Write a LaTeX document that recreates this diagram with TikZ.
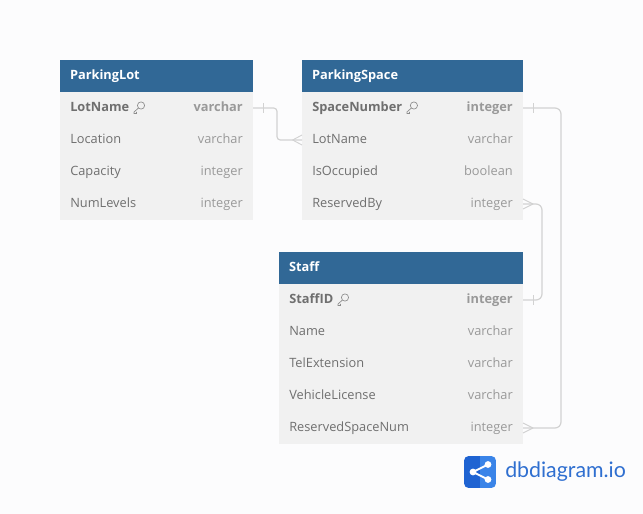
\documentclass[tikz,border=0pt]{standalone}
\usepackage{fontspec}
\setmainfont{Open Sans}
\newfontfamily\logofont{Lato}
\definecolor{hdr}{HTML}{316896}
\definecolor{rowbg}{HTML}{F1F1F1}
\definecolor{pagebg}{HTML}{FCFCFD}
\definecolor{txt}{HTML}{6F6F6F}
\definecolor{typ}{HTML}{999999}
\definecolor{conn}{HTML}{D2D2D2}
\definecolor{logoa}{HTML}{1F63D2}
\definecolor{logob}{HTML}{3A84E8}
\definecolor{logot}{HTML}{2F6FD0}
\tikzset{
  x=0.75pt,y=-0.75pt,
  hdrbox/.style={fill=hdr,draw=none,inner sep=0pt,outer sep=0pt,minimum height=24pt,text width=#1*0.75pt-15pt,minimum width=#1*0.75pt,anchor=north west,align=left,text=white,text height=7pt,text depth=2.5pt,font=\fontsize{9.6}{11}\selectfont\bfseries},
  rowbox/.style={fill=rowbg,draw=none,inner sep=0pt,outer sep=0pt,minimum height=24pt,minimum width=#1*0.75pt,anchor=north west},
  namelab/.style={anchor=west,inner sep=0pt,text=txt,text height=7pt,text depth=2.5pt,font=\fontsize{9.6}{11}\selectfont},
  typelab/.style={anchor=east,inner sep=0pt,text=typ,text height=7pt,text depth=2.5pt,font=\fontsize{9.6}{11}\selectfont},
  pkname/.style={namelab,font=\fontsize{9.6}{11}\selectfont\bfseries},
  pktype/.style={typelab,font=\fontsize{9.6}{11}\selectfont\bfseries},
  link/.style={draw=conn,line width=0.9pt,rounded corners=4.5pt},
  tightlink/.style={link,rounded corners=2.5pt},
  endmark/.style={draw=conn,line width=0.7pt},
  keyicon/.style={draw=txt!80,line width=0.5pt},
}
% \tablerow{id}{x}{y}{w}{name}{type}{style prefix: pk or plain}
\newcommand{\tablerow}[7]{%
  \node[rowbox=#4] (#1) at (#2,#3) {};
  \node[#7name] (#1-n) at ([xshift=7.5pt]#1.west) {#5};
  \node[#7type] (#1-t) at ([xshift=-7.5pt]#1.east) {#6};
}
\tikzset{plainname/.style={namelab},plaintype/.style={typelab}}
\newcommand{\keymark}[1]{%
  \begin{scope}[shift={([xshift=3pt]#1-n.east)}]
    \draw[keyicon] (7.5,-2.5) circle[radius=3.6];
    \draw[keyicon] (5,0) -- (0.5,4) -- (0.5,5.5) -- (3,5.5) -- (3,3.8);
  \end{scope}}
\begin{document}
\begin{tikzpicture}
\useasboundingbox[fill=pagebg] (0,0) rectangle (643,514);
% ParkingLot
\node[hdrbox=193] (lot) at (60,60) {ParkingLot};
\tablerow{lotA}{60}{92}{193}{LotName}{varchar}{pk}
\tablerow{lotB}{60}{124}{193}{Location}{varchar}{plain}
\tablerow{lotC}{60}{156}{193}{Capacity}{integer}{plain}
\tablerow{lotD}{60}{188}{193}{NumLevels}{integer}{plain}
\keymark{lotA}
% ParkingSpace
\node[hdrbox=221] (sp) at (302,60) {ParkingSpace};
\tablerow{spA}{302}{92}{221}{SpaceNumber}{integer}{pk}
\tablerow{spB}{302}{124}{221}{LotName}{varchar}{plain}
\tablerow{spC}{302}{156}{221}{IsOccupied}{boolean}{plain}
\tablerow{spD}{302}{188}{221}{ReservedBy}{integer}{plain}
\keymark{spA}
% Staff
\node[hdrbox=244] (st) at (279,252) {Staff};
\tablerow{stA}{279}{284}{244}{StaffID}{integer}{pk}
\tablerow{stB}{279}{316}{244}{Name}{varchar}{plain}
\tablerow{stC}{279}{348}{244}{TelExtension}{varchar}{plain}
\tablerow{stD}{279}{380}{244}{VehicleLicense}{varchar}{plain}
\tablerow{stE}{279}{412}{244}{ReservedSpaceNum}{integer}{plain}
\keymark{stA}
% Connectors
\draw[tightlink] (lotA.east) -- ++(24,0) |- (spB.west);
\draw[endmark] ([xshift=7.5pt]lotA.east) ++(0,-5) -- ++(0,10);
\draw[endmark] ([xshift=-7pt]spB.west) -- ([yshift=3.75pt]spB.west);
\draw[endmark] ([xshift=-7pt]spB.west) -- ([yshift=-3.75pt]spB.west);
\draw[link] (spA.east) -- ++(38,0) |- (stE.east);
\draw[endmark] ([xshift=7.5pt]spA.east) ++(0,-5) -- ++(0,10);
\draw[endmark] ([xshift=7.5pt]stE.east) -- ([yshift=3.75pt]stE.east);
\draw[endmark] ([xshift=7.5pt]stE.east) -- ([yshift=-3.75pt]stE.east);
\draw[link] (spD.east) -- ++(19,0) |- (stA.east);
\draw[endmark] ([xshift=7.5pt]stA.east) ++(0,-5) -- ++(0,10);
\draw[endmark] ([xshift=7.5pt]spD.east) -- ([yshift=3.75pt]spD.east);
\draw[endmark] ([xshift=7.5pt]spD.east) -- ([yshift=-3.75pt]spD.east);
% Logo
\begin{scope}
  \clip[rounded corners=3.5pt] (464,456) rectangle (496,488);
  \fill[logoa] (464,456) rectangle (480,488);
  \fill[logob] (480,456) rectangle (496,488);
\end{scope}
\draw[white,line width=1.5pt] (489,464) -- (473,472) -- (489,480);
\fill[white] (473,472) circle[radius=3.4] (488,464.5) circle[radius=3.4] (488,479.5) circle[radius=3.4];
\node[anchor=west,inner sep=0pt,text=logot,font=\logofont\fontsize{16}{18}\selectfont] (logo) at (505,472) {dbdiagram.io};
\end{tikzpicture}
\end{document}
